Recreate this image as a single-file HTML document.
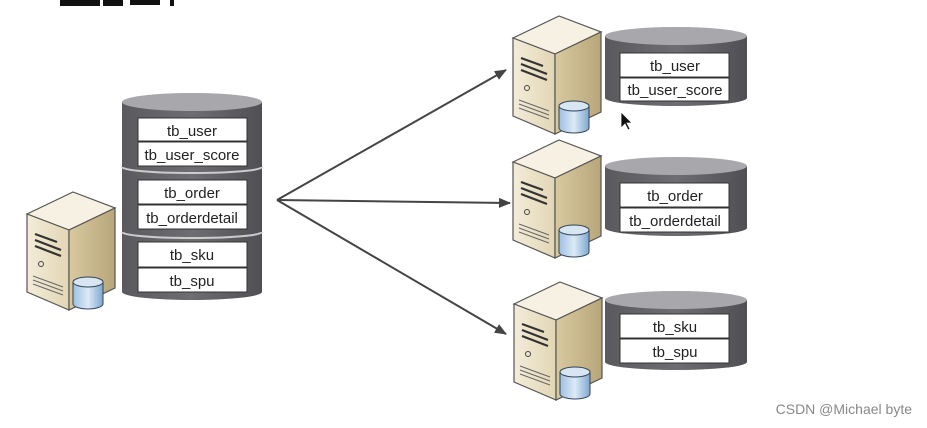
<!DOCTYPE html>
<html><head><meta charset="utf-8"><style>
html,body{margin:0;padding:0;background:#fff;}
svg{display:block;}
text{font-family:"Liberation Sans",sans-serif;}
</style></head><body>
<svg width="927" height="428" viewBox="0 0 927 428" xmlns="http://www.w3.org/2000/svg">
<defs>
<linearGradient id="fr" x1="0" x2="1"><stop offset="0" stop-color="#f3ecd9"/><stop offset="1" stop-color="#e2d6b4"/></linearGradient>
<linearGradient id="sd" x1="0" x2="1"><stop offset="0" stop-color="#d8c99f"/><stop offset="1" stop-color="#b8a67a"/></linearGradient>
<linearGradient id="db" x1="0" x2="1"><stop offset="0" stop-color="#9dc0e2"/><stop offset="0.5" stop-color="#dceaf7"/><stop offset="1" stop-color="#7ea7d0"/></linearGradient>
<linearGradient id="cy" x1="0" x2="1"><stop offset="0" stop-color="#5a5a5e"/><stop offset="0.5" stop-color="#6e6e72"/><stop offset="1" stop-color="#505054"/></linearGradient>
<g id="srv">
<polygon points="0,22 46,0 88,16 42,38" fill="#f6f1e2" stroke="#555" stroke-width="1.2"/>
<polygon points="0,22 42,38 42,118 0,100" fill="url(#fr)" stroke="#555" stroke-width="1.2"/>
<polygon points="42,38 88,16 88,96 42,118" fill="url(#sd)" stroke="#555" stroke-width="1.2"/>
<path d="M8,42 l22,8 M8,48 l26,10 M8,54 l26,10" stroke="#333" stroke-width="2.2"/>
<circle cx="14" cy="72" r="2.5" fill="none" stroke="#444"/>
<path d="M6,84 l30,11 M6,88 l30,11 M6,92 l30,11" stroke="#666" stroke-width="1"/>
<path d="M46,90 v22 a15,5 0 0 0 30,0 v-22" fill="url(#db)" stroke="#345" stroke-width="1"/>
<ellipse cx="61" cy="90" rx="15" ry="5" fill="#d8e6f4" stroke="#345" stroke-width="1"/>
</g>
<marker id="ar" markerWidth="12" markerHeight="10" refX="11" refY="5" orient="auto" markerUnits="userSpaceOnUse"><path d="M0,0 L12,5 L0,10 z" fill="#444"/></marker>
</defs>

<!-- title fragment -->
<rect x="60" y="0" width="40" height="6" fill="#111"/>
<rect x="103" y="0" width="20" height="6" fill="#111"/>
<rect x="130" y="0" width="30" height="5" fill="#111"/>
<rect x="170" y="0" width="4" height="6" fill="#111"/>

<!-- left server -->
<use href="#srv" x="27" y="192"/>

<!-- left big cylinder -->
<path d="M122,102 V292 a70,8 0 0 0 140,0 V102" fill="url(#cy)"/>
<ellipse cx="192" cy="102" rx="70" ry="9" fill="#a8a8ac"/>
<path d="M122,167 a70,6 0 0 0 140,0" fill="none" stroke="#ccc" stroke-width="2"/>
<path d="M122,232 a70,6 0 0 0 140,0" fill="none" stroke="#ccc" stroke-width="2"/>
<g fill="#fff" stroke="#333" stroke-width="1">
<rect x="138" y="118" width="109" height="23"/><rect x="138" y="142" width="109" height="24"/>
<rect x="138" y="180" width="109" height="24"/><rect x="138" y="205" width="109" height="24"/>
<rect x="138" y="242" width="109" height="25"/><rect x="138" y="268" width="109" height="24"/>
</g>
<g font-size="15" fill="#222" text-anchor="middle">
<text x="192" y="136">tb_user</text><text x="192" y="160">tb_user_score</text>
<text x="192" y="198">tb_order</text><text x="192" y="223">tb_orderdetail</text>
<text x="192" y="260">tb_sku</text><text x="192" y="286">tb_spu</text>
</g>

<!-- arrows -->
<g stroke="#444" stroke-width="2" marker-end="url(#ar)">
<line x1="277" y1="200" x2="506" y2="70"/>
<line x1="277" y1="200" x2="510" y2="203"/>
<line x1="277" y1="200" x2="506" y2="334"/>
</g>

<!-- right servers -->
<use href="#srv" x="513" y="16"/>
<use href="#srv" x="513" y="140"/>
<use href="#srv" x="514" y="282"/>

<!-- right cylinders -->
<g>
<path d="M605,36 V98 a71,8 0 0 0 142,0 V36" fill="url(#cy)"/>
<ellipse cx="676" cy="36" rx="71" ry="9" fill="#a8a8ac"/>
<path d="M605,166 V228 a71,8 0 0 0 142,0 V166" fill="url(#cy)"/>
<ellipse cx="676" cy="166" rx="71" ry="9" fill="#a8a8ac"/>
<path d="M605,300 V362 a71,8 0 0 0 142,0 V300" fill="url(#cy)"/>
<ellipse cx="676" cy="300" rx="71" ry="9" fill="#a8a8ac"/>
</g>
<g fill="#fff" stroke="#333" stroke-width="1">
<rect x="620" y="53" width="109" height="24"/><rect x="620" y="78" width="109" height="23"/>
<rect x="620" y="183" width="109" height="24"/><rect x="620" y="208" width="109" height="24"/>
<rect x="620" y="314" width="109" height="24"/><rect x="620" y="339" width="109" height="24"/>
</g>
<g font-size="15" fill="#222" text-anchor="middle">
<text x="675" y="71">tb_user</text><text x="675" y="95">tb_user_score</text>
<text x="675" y="201">tb_order</text><text x="675" y="226">tb_orderdetail</text>
<text x="675" y="332">tb_sku</text><text x="675" y="357">tb_spu</text>
</g>

<!-- cursor -->
<path d="M621,112 v16 l4,-4 l3,6 l2,-1 l-3,-6 l5,0 z" fill="#111" stroke="#fff" stroke-width="0.8"/>

<text x="912" y="414" font-size="14" fill="#888" text-anchor="end">CSDN @Michael byte</text>
</svg>
</body></html>
